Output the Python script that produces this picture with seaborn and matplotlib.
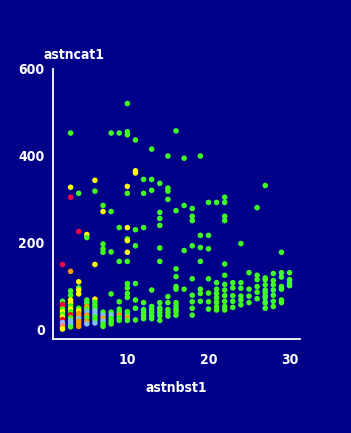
import numpy as np
import pandas as pd
import matplotlib
matplotlib.use('Agg')
import matplotlib.pyplot as plt
import seaborn as sns

# ---------------- data ----------------
# one line per astnbst1 value: astncat1 values and their colour group
cols = {
    2: ([149, 64, 57, 51, 46, 40, 34, 28, 22, 15, 9, 4, 0],
        'r g r r g y g y r b p o y'),
    3: ([452, 327, 304, 133, 88, 78, 67, 60, 53, 46, 40, 33, 26, 19, 12, 5],
        'g y r o g g y y g y g r g b b g'),
    4: ([313, 225, 109, 95, 90, 81, 48, 42, 36, 30, 24, 18, 12, 6],
        'g r y g y y g y o o b o o o'),
    5: ([218, 211, 67, 60, 52, 46, 40, 32, 26, 18, 12],
        'y g g g o g b o g o b'),
    6: ([343, 318, 149, 69, 62, 55, 48, 41, 34, 28, 21, 14],
        'y g y y g g g b b g g b'),
    7: ([285, 271, 196, 185, 177, 39, 32, 25, 19, 12, 6],
        'g y g g g g b o b g g'),
    8: ([452, 271, 178, 81, 39, 32, 25, 18, 12],
        'g g g g g b g g g'),
    9: ([452, 234, 156, 63, 46, 39, 32, 26, 20],
        'g g g g g g o g g'),
    10: ([520, 455, 448, 329, 313, 234, 208, 204, 177, 156, 105, 95, 82, 73, 40, 33, 26, 20],
         'g g g y g y g y y g g g g g g g o g'),
    11: ([436, 365, 360, 229, 192, 105, 67, 48, 21],
         'g y y g g g g g g'),
    12: ([345, 313, 234, 61, 45, 38, 31, 24],
         'g g g g g g g g'),
    13: ([415, 345, 320, 90, 52, 45, 38, 31, 24],
         'g g g g g g g g g'),
    14: ([336, 269, 255, 239, 187, 156, 61, 49, 45, 38, 31, 20],
         'g g g g g g g g g g g g'),
    15: ([399, 325, 318, 299, 75, 61, 45, 38, 30],
         'g g g g g g g g g'),
    16: ([457, 273, 139, 121, 98, 92, 61, 53, 46, 40, 32],
         'g g g g g g g g g g g'),
    17: ([394, 285, 181, 92], 'g g g g'),
    18: ([278, 260, 250, 192, 116, 78, 63, 48, 32],
         'g g g g g g g g g'),
    19: ([399, 216, 188, 156, 92, 82, 64], 'g g g g g g g'),
    20: ([292, 216, 185, 116, 83, 63, 46], 'g g g g g g g'),
    21: ([292, 107, 92, 82, 72, 62, 52, 44], 'g g g g g g g g'),
    22: ([304, 292, 260, 250, 150, 124, 103, 90, 77, 64, 52, 44],
         'g g g g g g g g g g g g'),
    23: ([107, 95, 77, 64, 50], 'g g g g g'),
    24: ([197, 107, 94, 76, 67, 56], 'g g g g g g'),
    25: ([130, 92, 76, 61], 'g g g g'),
    26: ([280, 124, 114, 98, 85, 70], 'g g g g g g'),
    27: ([331, 118, 114, 102, 90, 85, 77, 72, 62, 60, 48],
         'g g g g g g g g g g g'),
    28: ([128, 112, 102, 90, 78, 64, 52], 'g g g g g g g'),
    29: ([177, 130, 120, 98, 92, 67, 61], 'g g g g g g g'),
    30: ([130, 114, 106, 100], 'g g g g'),
}
palette = {'g': '#40FF20', 'y': '#FFFF00', 'r': '#FF0040',
           'o': '#FF9900', 'b': '#80C0FF', 'p': '#FF80C0'}

rows = []
for xv, (yvals, grp) in cols.items():
    for yv, g in zip(yvals, grp.split()):
        rows.append({'astnbst1': xv, 'astncat1': yv, 'grp': g})
df = pd.DataFrame(rows)

# ---------------- plot ----------------
BG = '#000088'
sns.set_style('white', {'axes.facecolor': BG, 'figure.facecolor': BG})
plt.rcParams['font.family'] = ['DejaVu Sans']
plt.rcParams['font.weight'] = 'bold'
plt.rcParams['font.stretch'] = 'condensed'

fig = plt.figure(figsize=(3.51, 4.33), dpi=100)
fig.patch.set_facecolor(BG)
ax = fig.add_axes([0.151, 0.217, 0.704, 0.624])
ax.set_facecolor(BG)

sns.scatterplot(data=df, x='astnbst1', y='astncat1', hue='grp', palette=palette,
                s=16, marker='o', linewidth=0, legend=False, ax=ax)

ax.set_xlim(0.83, 31.3)
ax.set_ylim(-23, 600)
ax.set_xticks([10, 20, 30])
ax.set_yticks([0, 200, 400, 600])
sns.despine(ax=ax)
for s in ['left', 'bottom']:
    ax.spines[s].set_color('white')
    ax.spines[s].set_linewidth(1.3)
ax.tick_params(colors='white', length=4, width=1.3, labelsize=10)
ax.tick_params(axis='x', pad=6)
ax.tick_params(axis='y', pad=2)
for lab in ax.get_xticklabels() + ax.get_yticklabels():
    lab.set_fontweight('bold')
    lab.set_fontstretch('condensed')

ax.set_xlabel('astnbst1', color='white', fontsize=10, fontweight='bold',
              fontstretch='condensed', labelpad=10)
ax.set_ylabel('')
fig.text(43 / 351, 1 - 59 / 433, 'astncat1', color='white', fontsize=10,
         fontweight='bold', fontstretch='condensed', ha='left', va='baseline')

fig.savefig('out.png', dpi=100, facecolor=BG)
